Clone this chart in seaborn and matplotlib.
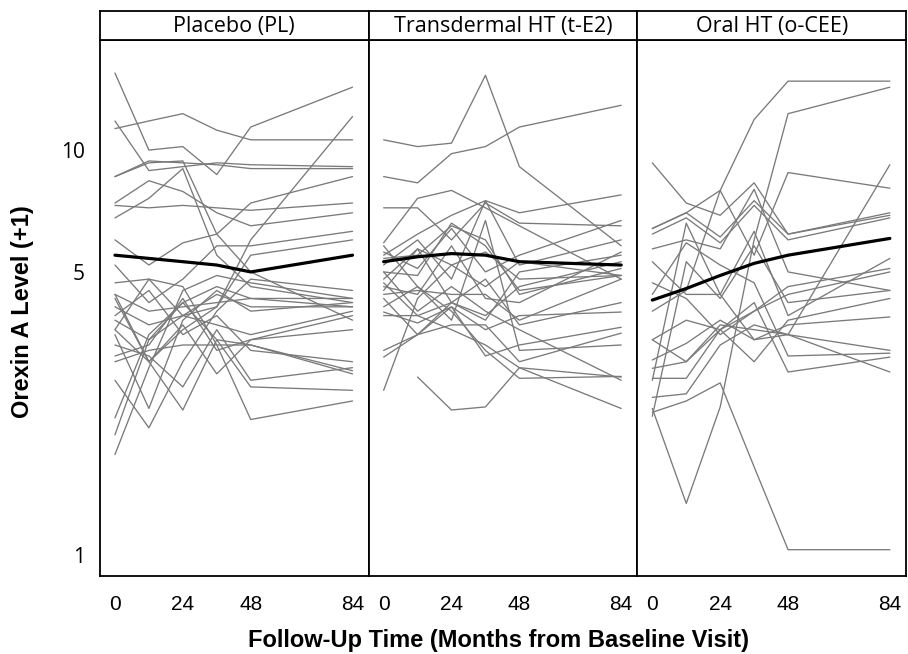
import numpy as np
import pandas as pd
import matplotlib
matplotlib.use("Agg")
import matplotlib.pyplot as plt
from matplotlib.ticker import FixedLocator, FixedFormatter, NullLocator
import seaborn as sns

# --- data (orexin A level + 1, log scale) ---
months = [0, 12, 24, 36, 48, 84]
groups = ["Placebo (PL)", "Transdermal HT (t-E2)", "Oral HT (o-CEE)"]

pl_subjects = [
    [15.5, 10.0, 10.2, 8.7, 11.4, 14.3],
    [11.3, 11.8, 12.3, 11.2, 10.6, 10.6],
    [11.8, 8.9, 9.1, 9.3, 9.2, 9.1],
    [8.6, 9.3, 9.4, 6.2, 5.0, 3.8],
    [8.6, 9.4, 9.3, 9.2, 9.0, 9.0],
    [7.4, 8.4, 7.9, 7.0, 6.5, 7.0],
    [7.3, 7.2, 7.3, 7.2, 7.1, 7.4],
    [6.8, 7.6, 9.0, 5.5, 4.6, 4.2],
    [6.0, 5.2, 5.9, 6.2, 7.4, 8.6],
    [4.4, 3.0, 3.6, 4.1, 6.0, 12.1],
    [5.2, 4.2, 4.8, 5.8, 5.8, 6.3],
    [4.7, 4.8, 3.9, 4.1, 5.5, 6.0],
    [4.4, 4.0, 4.1, 4.2, 4.3, 4.3],
    [4.1, 3.7, 3.9, 4.4, 4.1, 4.1],
    [3.9, 4.5, 3.5, 3.9, 3.2, 3.0],
    [3.8, 3.4, 4.2, 3.4, 3.3, 2.8],
    [3.6, 4.8, 4.6, 3.3, 3.3, 2.85],
    [3.5, 2.3, 3.8, 4.5, 4.0, 4.2],
    [3.3, 3.1, 2.6, 3.6, 2.7, 2.9],
    [3.1, 3.3, 4.3, 3.2, 3.4, 3.6],
    [3.0, 3.2, 3.3, 3.3, 2.16, 2.4],
    [2.18, 3.5, 4.2, 4.6, 4.3, 4.1],
    [1.98, 3.4, 3.9, 3.7, 3.5, 4.0],
    [1.77, 2.9, 4.5, 4.9, 4.7, 4.3],
    [2.7, 2.06, 3.0, 4.0, 4.8, 4.5],
    [3.6, 3.0, 2.28, 3.4, 2.6, 2.55],
    [4.3, 3.0, 3.7, 2.8, 3.4, 3.9],
]

te2_subjects = [
    [10.6, 10.2, 10.4, 15.3, 9.1, 5.8],
    [8.6, 8.3, 9.8, 10.2, 11.4, 12.9],
    [7.2, 7.2, 6.0, 7.4, 6.6, 6.5],
    [5.9, 7.6, 7.95, 7.2, 6.5, 4.8],
    [5.5, 6.2, 6.9, 7.5, 7.0, 7.75],
    [5.6, 5.1, 6.4, 5.0, 5.5, 6.7],
    [5.2, 6.0, 4.8, 7.5, 5.2, 6.0],
    [5.4, 5.5, 6.5, 6.0, 4.4, 5.1],
    [5.0, 4.9, 6.6, 5.8, 4.5, 4.9],
    [4.8, 5.7, 5.2, 4.6, 5.3, 4.9],
    [4.6, 4.4, 5.8, 4.3, 4.2, 5.6],
    [4.5, 5.7, 4.2, 3.9, 4.6, 5.3],
    [4.4, 4.5, 4.4, 4.4, 3.8, 4.8],
    [3.98, 3.74, 4.1, 3.6, 3.9, 3.98],
    [3.2, 3.5, 4.1, 3.1, 3.3, 3.65],
    [3.08, 3.5, 3.7, 3.7, 3.0, 3.53],
    [2.55, 4.3, 5.2, 5.6, 4.8, 4.9],
    [None, 2.75, 2.28, 2.32, 2.9, 2.75],
    [4.1, 4.6, 4.0, 3.2, 2.73, 2.76],
    [4.7, 3.9, 3.6, 3.3, 2.9, 2.3],
    [5.0, 4.0, 4.6, 4.0, 3.6, 2.7],
    [4.3, 3.5, 4.2, 4.8, 3.7, 4.2],
    [5.8, 4.6, 3.8, 6.7, 3.2, 3.3],
    [3.9, 3.9, 4.2, 3.8, 5.0, 5.5],
]

cee_subjects = [
    [6.4, 7.0, 7.95, 11.9, 14.8, 14.8],
    [2.25, 2.4, 2.66, 1.65, 1.03, 1.03],
    [2.3, 1.34, 2.32, 6.0, 12.3, 14.3],
    [9.3, 7.4, 6.9, 8.3, 6.2, 7.0],
    [6.4, 7.0, 6.1, 7.5, 6.2, 6.9],
    [6.2, 6.8, 5.9, 7.3, 6.0, 6.8],
    [5.7, 6.0, 5.7, 8.0, 5.0, 4.5],
    [4.0, 4.5, 7.95, 5.5, 8.8, 8.05],
    [2.7, 6.6, 4.4, 3.4, 3.5, 9.2],
    [5.3, 4.4, 4.4, 6.3, 3.9, 5.4],
    [4.7, 4.3, 3.5, 4.0, 4.6, 5.1],
    [3.4, 3.8, 3.6, 3.0, 3.8, 4.3],
    [3.03, 3.33, 3.8, 3.4, 3.7, 3.87],
    [2.89, 3.0, 3.7, 3.6, 3.5, 3.2],
    [2.73, 2.73, 3.6, 4.2, 2.83, 3.08],
    [2.45, 2.5, 3.3, 3.7, 3.5, 2.83],
    [3.4, 3.0, 3.6, 4.0, 4.4, 5.0],
    [2.2, 5.3, 4.3, 5.8, 4.2, 4.5],
    [4.4, 5.9, 5.2, 4.7, 3.1, 3.15],
]

pl_mean = [5.5, 5.4, 5.3, 5.2, 5.0, 5.5]
te2_mean = [5.3, 5.45, 5.55, 5.5, 5.3, 5.2]
cee_mean = [4.26, 4.55, 4.9, 5.25, 5.5, 6.05]

subjects = [pl_subjects, te2_subjects, cee_subjects]
means = [pl_mean, te2_mean, cee_mean]

rows = []
for g, subj in zip(groups, subjects):
    for i, vals in enumerate(subj):
        for m, v in zip(months, vals):
            if v is not None:
                rows.append((g, f"{g}-{i}", m, v))
df = pd.DataFrame(rows, columns=["group", "id", "month", "orexin"])

sns.set_style("white")
plt.rcParams["font.family"] = ["Liberation Sans", "DejaVu Sans"]
plt.rcParams["text.color"] = "black"
plt.rcParams["xtick.color"] = "black"
plt.rcParams["ytick.color"] = "black"

fig, axes = plt.subplots(1, 3, figsize=(9.08, 6.54), dpi=100, sharey=True)
plt.subplots_adjust(left=0.1101, right=0.9978, bottom=0.1193, top=0.9388, wspace=0)

for ax, g, mean in zip(axes, groups, means):
    sns.lineplot(data=df[df["group"] == g], x="month", y="orexin", units="id",
                 estimator=None, color="#7a7a7a", lw=0.95, ax=ax, legend=False)
    sns.lineplot(x=months, y=mean, color="black", lw=2.3, ax=ax)
    ax.set_yscale("log")
    ax.set_ylim(0.887, 18.7)
    ax.set_xlim(-5.3, 89.7)
    ax.set_xticks([0, 24, 48, 84])
    ax.set_xticklabels(["0", "24", "48", "84"], fontsize=15)
    ax.tick_params(axis="both", length=0)
    ax.tick_params(axis="x", pad=14)
    ax.set_xlabel("")
    ax.set_ylabel("")
    for s in ax.spines.values():
        s.set_visible(True)
        s.set_color("black")
        s.set_linewidth(1.3)

    # header strip
    pos = ax.get_position()
    hax = fig.add_axes([pos.x0, pos.y1, pos.width, 29 / 654])
    hax.set_xticks([])
    hax.set_yticks([])
    for s in hax.spines.values():
        s.set_color("black")
        s.set_linewidth(1.3)
    hax.text(0.5, 0.47, g, ha="center", va="center", fontsize=15.5,
             family=["Open Sans", "DejaVu Sans"])

ax0 = axes[0]
ax0.yaxis.set_major_locator(FixedLocator([1, 5, 10]))
ax0.yaxis.set_major_formatter(FixedFormatter(["1", "5", "10"]))
ax0.yaxis.set_minor_locator(NullLocator())
ax0.tick_params(axis="y", pad=11, labelsize=15)
for lab in ax0.get_yticklabels():
    lab.set_family(["Open Sans", "DejaVu Sans"])

fig.text(0.025, 0.523, "Orexin A Level (+1)", rotation=90, ha="center", va="center",
         fontsize=17, fontweight="bold")
fig.text(0.5485, 0.02, "Follow-Up Time (Months from Baseline Visit)", ha="center",
         va="center", fontsize=17, fontweight="bold")

fig.savefig("out.png", dpi=100)
